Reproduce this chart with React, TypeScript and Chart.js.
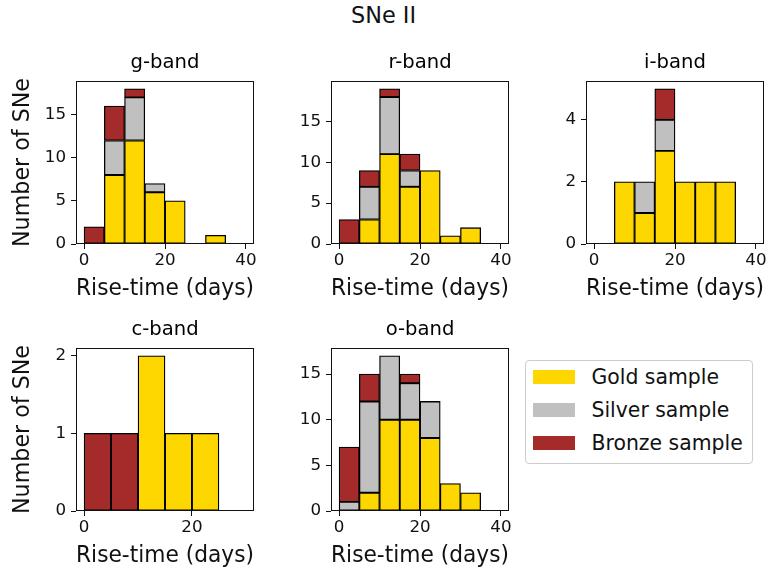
import React, { useEffect, useRef } from 'react';
import { Chart, registerables } from 'chart.js';

Chart.register(...registerables);

// ---------------- data ----------------
const binEdges = [0, 5, 10, 15, 20, 25, 30, 35, 40];
const binEdgesC = [0, 5, 10, 15, 20, 25, 30];

const gGold = [0, 8, 12, 6, 5, 0, 1, 0];
const gSilver = [0, 4, 5, 1, 0, 0, 0, 0];
const gBronze = [2, 4, 1, 0, 0, 0, 0, 0];

const rGold = [0, 3, 11, 7, 9, 1, 2, 0];
const rSilver = [0, 4, 7, 2, 0, 0, 0, 0];
const rBronze = [3, 2, 1, 2, 0, 0, 0, 0];

const iGold = [0, 2, 1, 3, 2, 2, 2, 0];
const iSilver = [0, 0, 1, 1, 0, 0, 0, 0];
const iBronze = [0, 0, 0, 1, 0, 0, 0, 0];

const cGold = [0, 0, 2, 1, 1, 0];
const cSilver = [0, 0, 0, 0, 0, 0];
const cBronze = [1, 1, 0, 0, 0, 0];

const oGold = [0, 2, 10, 10, 8, 3, 2, 0];
const oSilver = [1, 10, 7, 4, 4, 0, 0, 0];
const oBronze = [6, 3, 0, 1, 0, 0, 0, 0];

const xTicksMain = [0, 20, 40];
const xTicksC = [0, 20];
const yTicksG = [0, 5, 10, 15];
const yTicksR = [0, 5, 10, 15];
const yTicksI = [0, 2, 4];
const yTicksC = [0, 1, 2];
const yTicksO = [0, 5, 10, 15];

const seriesNames = ['Gold sample', 'Silver sample', 'Bronze sample'];
const seriesColors = ['#FFD700', '#C0C0C0', '#A52A2A'];

const figTitle = 'SNe II';
const xLabel = 'Rise-time (days)';
const yLabel = 'Number of SNe';

// ---------------- layout ----------------
const FONT = "'DejaVu Sans', sans-serif";
const Y_AXIS_W = 76;
const TITLE_H = 37;
const X_AXIS_H = 60;
const PAD_R = 8;
const AX_W = 178;
const AX_H = 163;
const CW = Y_AXIS_W + AX_W + PAD_R;
const CH = TITLE_H + AX_H + X_AXIS_H;

type PanelDef = {
  title: string;
  edges: number[];
  gold: number[];
  silver: number[];
  bronze: number[];
  xTicks: number[];
  yTicks: number[];
  left: number;
  top: number;
  yTitle: boolean;
};

const panels: PanelDef[] = [
  { title: 'g-band', edges: binEdges, gold: gGold, silver: gSilver, bronze: gBronze, xTicks: xTicksMain, yTicks: yTicksG, left: 76, top: 81, yTitle: true },
  { title: 'r-band', edges: binEdges, gold: rGold, silver: rSilver, bronze: rBronze, xTicks: xTicksMain, yTicks: yTicksR, left: 331, top: 81, yTitle: false },
  { title: 'i-band', edges: binEdges, gold: iGold, silver: iSilver, bronze: iBronze, xTicks: xTicksMain, yTicks: yTicksI, left: 586, top: 81, yTitle: false },
  { title: 'c-band', edges: binEdgesC, gold: cGold, silver: cSilver, bronze: cBronze, xTicks: xTicksC, yTicks: yTicksC, left: 76, top: 348, yTitle: true },
  { title: 'o-band', edges: binEdges, gold: oGold, silver: oSilver, bronze: oBronze, xTicks: xTicksMain, yTicks: yTicksO, left: 331, top: 348, yTitle: false },
];

const framePlugin = {
  id: 'axesFrame',
  afterDatasetsDraw(chart: any) {
    const { ctx, chartArea: a } = chart;
    ctx.save();
    ctx.strokeStyle = '#111';
    ctx.lineWidth = 1;
    ctx.strokeRect(a.left + 0.5, a.top + 0.5, a.right - a.left - 1, a.bottom - a.top - 1);
    ctx.restore();
  },
};

function makeConfig(p: PanelDef): any {
  const e = p.edges;
  const span = e[e.length - 1] - e[0];
  const xMin = e[0] - 0.05 * span;
  const xMax = e[e.length - 1] + 0.05 * span;
  const totals = p.gold.map((v, j) => v + p.silver[j] + p.bronze[j]);
  const yMax = Math.max(...totals) * 1.05;
  const series = [p.gold, p.silver, p.bronze];
  return {
    type: 'bar',
    data: {
      datasets: series.map((arr, k) => ({
        label: seriesNames[k],
        data: arr.map((v, j) => ({ x: (e[j] + e[j + 1]) / 2, y: v })),
        backgroundColor: seriesColors[k],
        borderColor: '#000',
        borderWidth: 1.3,
        borderSkipped: false,
        barPercentage: 1,
        categoryPercentage: 1,
      })),
    },
    options: {
      animation: false,
      responsive: false,
      events: [],
      layout: { padding: { left: 0, top: 0, right: PAD_R, bottom: 0 }, autoPadding: false },
      plugins: {
        legend: { display: false },
        tooltip: { enabled: false },
        title: {
          display: true,
          text: p.title,
          fullSize: false,
          color: '#000',
          font: { family: FONT, size: 19.6, weight: 'normal', lineHeight: 1.2 },
          padding: { top: 6.94, bottom: 6.54 },
        },
      },
      scales: {
        x: {
          type: 'linear',
          stacked: true,
          offset: false,
          bounds: 'data',
          min: xMin,
          max: xMax,
          grid: { display: true, drawOnChartArea: false, drawTicks: true, tickLength: 5, color: '#111', offset: false },
          border: { display: false },
          ticks: { font: { family: FONT, size: 16.7 }, color: '#111', padding: 2, maxRotation: 0, autoSkip: false },
          afterBuildTicks: (ax: any) => {
            ax.ticks = p.xTicks.map((v) => ({ value: v }));
          },
          afterFit: (ax: any) => {
            ax.height = X_AXIS_H;
          },
          title: {
            display: true,
            text: xLabel,
            color: '#111',
            font: { family: FONT, size: 22.2, lineHeight: 1.2 },
            padding: { top: 0, bottom: 1.5 },
          },
        },
        y: {
          type: 'linear',
          stacked: true,
          bounds: 'data',
          min: 0,
          max: yMax,
          grid: { display: true, drawOnChartArea: false, drawTicks: true, tickLength: 5, color: '#111' },
          border: { display: false },
          ticks: { font: { family: FONT, size: 16.7 }, color: '#111', padding: 5, autoSkip: false },
          afterBuildTicks: (ax: any) => {
            ax.ticks = p.yTicks.map((v) => ({ value: v }));
          },
          afterFit: (ax: any) => {
            ax.width = Y_AXIS_W;
          },
          title: {
            display: p.yTitle,
            text: yLabel,
            color: '#111',
            font: { family: FONT, size: 22.2, lineHeight: 1.2 },
            padding: { top: 9.5, bottom: 0 },
          },
        },
      },
    },
    plugins: [framePlugin],
  };
}

function Panel({ p }: { p: PanelDef }) {
  const ref = useRef<HTMLCanvasElement>(null);
  useEffect(() => {
    const chart = new Chart(ref.current as HTMLCanvasElement, makeConfig(p));
    return () => chart.destroy();
  }, [p]);
  return (
    <canvas
      ref={ref}
      width={CW}
      height={CH}
      style={{ position: 'absolute', left: p.left - Y_AXIS_W, top: p.top - TITLE_H, width: CW, height: CH }}
    />
  );
}

function Legend() {
  const S = 20.4;
  const rows = seriesNames.map((name, k) => {
    const baseline = 384.3 + 33 * k;
    return (
      <React.Fragment key={name}>
        <div
          style={{
            position: 'absolute',
            left: 533,
            top: Math.round(baseline - 14),
            width: 42,
            height: 14,
            background: seriesColors[k],
          }}
        />
        <div
          style={{
            position: 'absolute',
            left: 591.5,
            top: baseline - 0.846 * S,
            fontFamily: FONT,
            fontSize: S,
            lineHeight: `${S}px`,
            color: '#111',
            whiteSpace: 'nowrap',
          }}
        >
          {name}
        </div>
      </React.Fragment>
    );
  });
  return (
    <>
      <div
        style={{
          position: 'absolute',
          left: 525,
          top: 360,
          width: 228,
          height: 104,
          boxSizing: 'border-box',
          border: '1px solid #cccccc',
          borderRadius: 4,
          background: 'rgba(255,255,255,0.8)',
        }}
      />
      {rows}
    </>
  );
}

export default function App() {
  const S = 22.4;
  return (
    <div
      style={{
        position: 'absolute',
        left: 0,
        top: 0,
        width: 767,
        height: 574,
        overflow: 'hidden',
        background: '#fff',
      }}
    >
      <div
        style={{
          position: 'absolute',
          left: 0,
          width: 767,
          top: 22.5 - 0.846 * S,
          textAlign: 'center',
          fontFamily: FONT,
          fontSize: S,
          lineHeight: `${S}px`,
          color: '#111',
        }}
      >
        {figTitle}
      </div>
      {panels.map((p) => (
        <Panel key={p.title} p={p} />
      ))}
      <Legend />
    </div>
  );
}
